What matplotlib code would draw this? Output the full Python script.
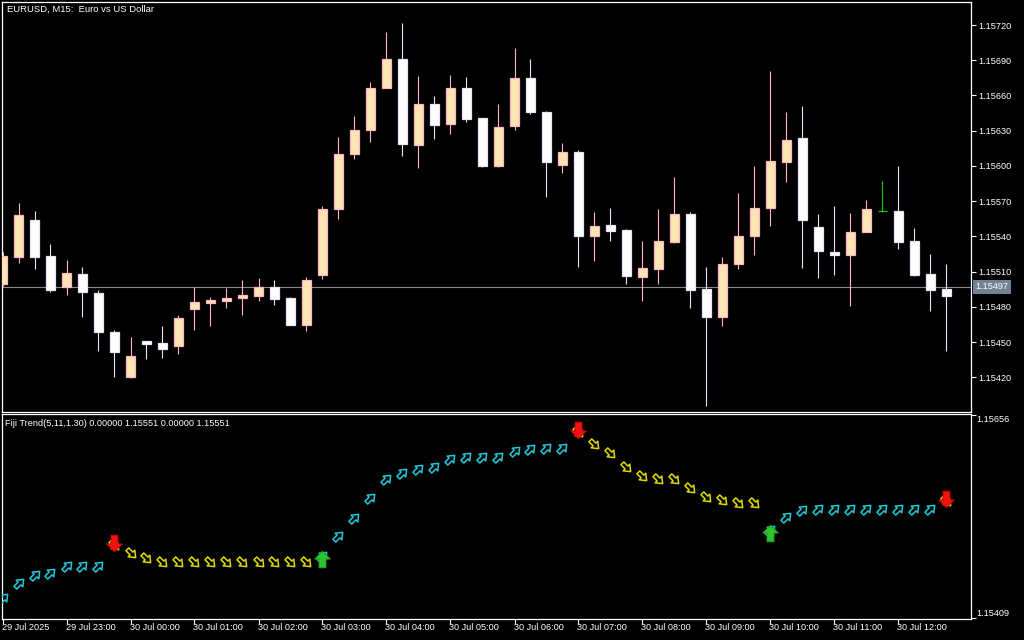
import matplotlib
matplotlib.use('Agg')
import matplotlib.pyplot as plt
import numpy as np
from matplotlib.path import Path
from matplotlib.transforms import Affine2D, ScaledTranslation, blended_transform_factory
from matplotlib import font_manager as fm

# ---------------- data ----------------
title = "EURUSD, M15:  Euro vs US Dollar"
ind_label = "Fiji Trend(5,11,1.30) 0.00000 1.15551 0.00000 1.15551"

opens = [1.154994, 1.155224, 1.155539, 1.155233, 1.154969, 1.155080, 1.154918, 1.154586, 1.154203, 1.154509,
         1.154492, 1.154467, 1.154782, 1.154833, 1.154852, 1.154878, 1.154892, 1.154969, 1.154875, 1.154645,
         1.155071, 1.155633, 1.156102, 1.156306, 1.156664, 1.156911, 1.156178, 1.156527, 1.156357, 1.156664,
         1.156408, 1.155999, 1.156340, 1.156749, 1.156459, 1.156008, 1.156119, 1.155403, 1.155497, 1.155454,
         1.155054, 1.155122, 1.155352, 1.155591, 1.154952, 1.154713, 1.155165, 1.155403, 1.155642, 1.156033,
         1.156238, 1.155480, 1.155267, 1.155241, 1.155437, 1.155616, 1.155616, 1.155361, 1.155080, 1.154949]
highs = [1.155267, 1.155684, 1.155616, 1.155335, 1.155199, 1.155139, 1.154943, 1.154603, 1.154543, 1.154509,
         1.154637, 1.154730, 1.154969, 1.154884, 1.154960, 1.155029, 1.155046, 1.155029, 1.154884, 1.155054,
         1.155659, 1.156246, 1.156425, 1.156715, 1.157140, 1.157217, 1.156766, 1.156595, 1.156774, 1.156757,
         1.156408, 1.156527, 1.157004, 1.156911, 1.156468, 1.156195, 1.156136, 1.155608, 1.155642, 1.155463,
         1.155361, 1.155633, 1.155906, 1.155608, 1.155139, 1.155224, 1.155769, 1.155999, 1.156808, 1.156459,
         1.156510, 1.155591, 1.155659, 1.155599, 1.155710, 1.155872, 1.155999, 1.155471, 1.155250, 1.155165]
lows = [1.154977, 1.155173, 1.155122, 1.154926, 1.154901, 1.154713, 1.154424, 1.154203, 1.154194, 1.154356,
        1.154364, 1.154398, 1.154603, 1.154637, 1.154790, 1.154730, 1.154849, 1.154816, 1.154645, 1.154594,
        1.155037, 1.155548, 1.156059, 1.156204, 1.156664, 1.156085, 1.155982, 1.156230, 1.156272, 1.156374,
        1.155991, 1.155991, 1.156306, 1.156442, 1.155735, 1.155940, 1.155139, 1.155190, 1.155361, 1.154994,
        1.154850, 1.154994, 1.155344, 1.154790, 1.153956, 1.154637, 1.155122, 1.155241, 1.155488, 1.155863,
        1.155131, 1.155046, 1.155071, 1.154807, 1.155437, 1.155608, 1.155293, 1.155063, 1.154765, 1.154424]
closes = [1.155233, 1.155582, 1.155224, 1.154943, 1.155088, 1.154926, 1.154586, 1.154415, 1.154381, 1.154488,
          1.154441, 1.154705, 1.154841, 1.154858, 1.154875, 1.154901, 1.154969, 1.154867, 1.154645, 1.155029,
          1.155633, 1.156102, 1.156306, 1.156664, 1.156911, 1.156187, 1.156527, 1.156349, 1.156664, 1.156399,
          1.155999, 1.156331, 1.156749, 1.156459, 1.156033, 1.156119, 1.155403, 1.155488, 1.155446, 1.155063,
          1.155131, 1.155361, 1.155591, 1.154943, 1.154713, 1.155165, 1.155403, 1.155642, 1.156042, 1.156221,
          1.155539, 1.155275, 1.155241, 1.155437, 1.155633, 1.155616, 1.155352, 1.155071, 1.154943, 1.154895]
current_price = 1.15497

trend = [1.154330, 1.154512, 1.154613, 1.154634, 1.154723, 1.154723, 1.154723, 1.154978, 1.154877, 1.154816,
         1.154768, 1.154768, 1.154768, 1.154768, 1.154768, 1.154768, 1.154768, 1.154768, 1.154768, 1.154768,
         1.154844, 1.155088, 1.155303, 1.155546, 1.155778, 1.155851, 1.155899, 1.155931, 1.156021, 1.156053,
         1.156053, 1.156053, 1.156126, 1.156143, 1.156162, 1.156162, 1.156353, 1.156204, 1.156094, 1.155924,
         1.155818, 1.155778, 1.155778, 1.155668, 1.155559, 1.155526, 1.155486, 1.155486, 1.155161, 1.155323,
         1.155404, 1.155413, 1.155413, 1.155413, 1.155413, 1.155413, 1.155413, 1.155413, 1.155420, 1.155514]
trend_dir = [1] * 7 + [-1] * 13 + [1] * 16 + [-1] * 12 + [1] * 11 + [-1]
sig_down = [7, 36, 59]
sig_up = [20, 48]

price_ticks = [1.15420, 1.15450, 1.15480, 1.15510, 1.15540, 1.15570, 1.15600, 1.15630, 1.15660, 1.15690, 1.15720]
ind_ticks = [1.15409, 1.15656]
time_tick_bars = [0, 4, 8, 12, 16, 20, 24, 28, 32, 36, 40, 44, 48, 52, 56]
time_labels = ["29 Jul 2025", "29 Jul 23:00", "30 Jul 00:00", "30 Jul 01:00", "30 Jul 02:00", "30 Jul 03:00",
               "30 Jul 04:00", "30 Jul 05:00", "30 Jul 06:00", "30 Jul 07:00", "30 Jul 08:00", "30 Jul 09:00",
               "30 Jul 10:00", "30 Jul 11:00", "30 Jul 12:00"]

# ---------------- style ----------------
names = {f.name for f in fm.fontManager.ttflist}
FONT = 'Liberation Sans' if 'Liberation Sans' in names else 'DejaVu Sans'
plt.rcParams['font.family'] = [FONT, 'DejaVu Sans']

BG = 'black'
FG = 'white'
BULL_FACE, BULL_EDGE = '#FFE4B5', '#FFB6C1'
BEAR_FACE, BEAR_EDGE = '#FFFFFF', '#E6E6FA'
DOJI = '#00D000'
CYAN, YELLOW = '#22C8DC', '#E0DA00'
RED, GREEN = '#F21010', '#2EC42E'

W, H = 1024, 640
fig = plt.figure(figsize=(W / 100, H / 100), dpi=100, facecolor=BG)


def rect(x0, y0, x1, y1):
    return [x0 / W, 1 - y1 / H, (x1 - x0) / W, (y1 - y0) / H]


ax1 = fig.add_axes(rect(2, 2, 971, 412))
ax2 = fig.add_axes(rect(2, 414, 971, 619))

n = len(opens)
xs = np.arange(n)
xlim = ((2 - 2.5) / 16, (971 - 2.5) / 16)

for ax in (ax1, ax2):
    ax.set_facecolor(BG)
    for s in ax.spines.values():
        s.set_color(FG)
        s.set_linewidth(0.9)
    ax.set_xlim(*xlim)

# ---------------- candles ----------------
ax1.set_ylim(1.153905, 1.157396)
bw = 0.62
for i in range(n):
    o, h, l, c = opens[i], highs[i], lows[i], closes[i]
    if c > o:
        face, edge = BULL_FACE, BULL_EDGE
    elif c < o:
        face, edge = BEAR_FACE, BEAR_EDGE
    else:
        face, edge = DOJI, DOJI
    ax1.vlines(xs[i], l, h, color=edge, lw=0.8, zorder=2)
    if c == o:
        ax1.hlines(o, xs[i] - bw / 2, xs[i] + bw / 2, color=DOJI, lw=0.9, zorder=3)
    else:
        ax1.bar(xs[i], abs(c - o), bottom=min(o, c), width=bw, color=face,
                edgecolor=edge, linewidth=0.9, zorder=3)

ax1.axhline(current_price, color='#8A8A8A', lw=0.8, zorder=1)

ax1.yaxis.tick_right()
ax1.set_yticks(price_ticks)
ax1.set_yticklabels([f"{t:.5f}" for t in price_ticks])
ax1.tick_params(axis='y', colors=FG, labelsize=6.6, length=3.5, width=0.8, pad=2, direction='out')
ax1.set_xticks([])

# current price box
tb = blended_transform_factory(ax1.transAxes, ax1.transData)
ax1.text(1 + 4.5 / 969, current_price, f"{current_price:.5f}", transform=tb, ha='left', va='center',
         color=FG, fontsize=6.6, zorder=10, clip_on=False,
         bbox=dict(boxstyle='square,pad=0.25', facecolor='#738394', edgecolor='none'))

fig.text(7 / W, 1 - 9 / H, title, color=FG, fontsize=6.8, ha='left', va='center')

# ---------------- indicator ----------------
ax2.set_ylim(1.154078, 1.156572)


def arrow_path(angle, head=0.8, shaft=0.34, neck=0.0):
    v = np.array([(0, 1), (head, neck), (shaft, neck), (shaft, -1), (-shaft, -1),
                  (-shaft, neck), (-head, neck), (0, 1)])
    v = Affine2D().rotate_deg(angle).transform(v)
    codes = [Path.MOVETO] + [Path.LINETO] * 6 + [Path.CLOSEPOLY]
    return Path(v, codes)


up_right = arrow_path(-45)
down_right = arrow_path(-135)
big_down = arrow_path(180, head=0.95, shaft=0.42, neck=0.05)
big_up = arrow_path(0, head=0.95, shaft=0.42, neck=0.05)

tr = np.array(trend)
dirs = np.array(trend_dir)
ax2.plot(xs[dirs > 0], tr[dirs > 0], linestyle='none', marker=up_right, markersize=8,
         markerfacecolor='none', markeredgecolor=CYAN, markeredgewidth=1.1, zorder=3, clip_on=True)
ax2.plot(xs[dirs < 0], tr[dirs < 0], linestyle='none', marker=down_right, markersize=8,
         markerfacecolor='none', markeredgecolor=YELLOW, markeredgewidth=1.1, zorder=3, clip_on=True)

off_up = ax2.transData + ScaledTranslation(0, 1.5 / 72, fig.dpi_scale_trans)
off_dn = ax2.transData + ScaledTranslation(0, -2.2 / 72, fig.dpi_scale_trans)
ax2.plot(xs[sig_down], tr[sig_down], linestyle='none', marker=big_down, markersize=12,
         markerfacecolor=RED, markeredgecolor='#C00000', markeredgewidth=0.6, zorder=4, transform=off_up)
ax2.plot(xs[sig_up], tr[sig_up], linestyle='none', marker=big_up, markersize=12,
         markerfacecolor=GREEN, markeredgecolor='#1E9A1E', markeredgewidth=0.6, zorder=4, transform=off_dn)

ax2.yaxis.tick_right()
ax2.set_yticks(ind_ticks)
ax2.set_yticklabels([])
ax2.tick_params(axis='y', colors=FG, length=3.5, width=0.8, direction='out')
tb2 = blended_transform_factory(ax2.transAxes, ax2.transData)
ax2.text(1 + 5.5 / 969, ind_ticks[1], f"{ind_ticks[1]:.5f}", transform=tb2, ha='left', va='top',
         color=FG, fontsize=6.6, clip_on=False)
ax2.text(1 + 5.5 / 969, ind_ticks[0], f"{ind_ticks[0]:.5f}", transform=tb2, ha='left', va='bottom',
         color=FG, fontsize=6.6, clip_on=False)

ax2.set_xticks(time_tick_bars)
ax2.set_xticklabels([])
ax2.tick_params(axis='x', colors=FG, length=3.5, width=0.8, direction='out')
tbx = blended_transform_factory(ax2.transData, ax2.transAxes)
for b, lab in zip(time_tick_bars, time_labels):
    ax2.text(b - 1.0 / 16, -9 / 205, lab, transform=tbx, ha='left', va='center', color=FG,
             fontsize=6.6, clip_on=False)

fig.text(5 / W, 1 - 424 / H, ind_label, color=FG, fontsize=6.6, ha='left', va='center')

fig.savefig('out.png', dpi=100, facecolor=BG)
